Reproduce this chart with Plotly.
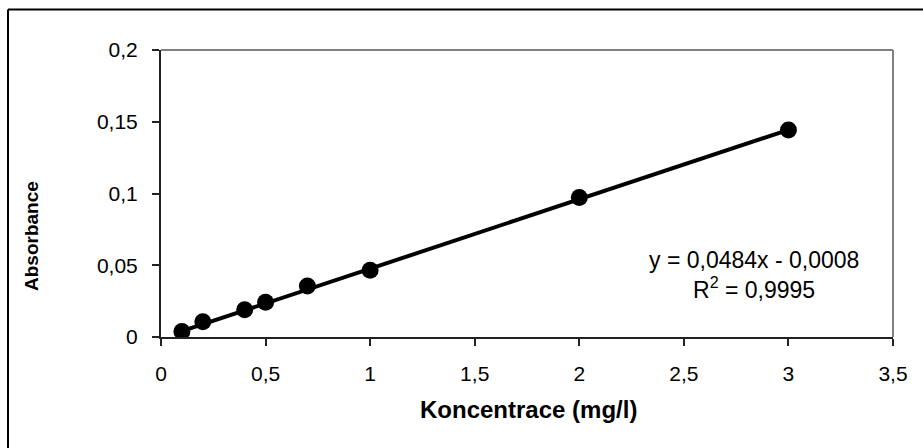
import plotly.graph_objects as go

# Data
concentration = [0.1, 0.2, 0.4, 0.5, 0.7, 1.0, 2.0, 3.0]
absorbance = [0.0039, 0.0107, 0.019, 0.0242, 0.0355, 0.0465, 0.0972, 0.1443]
slope = 0.0484
intercept = -0.0008
x_ticks = [0, 0.5, 1, 1.5, 2, 2.5, 3, 3.5]
x_tick_labels = ["0", "0,5", "1", "1,5", "2", "2,5", "3", "3,5"]
y_ticks = [0, 0.05, 0.1, 0.15, 0.2]
y_tick_labels = ["0", "0,05", "0,1", "0,15", "0,2"]
equation_text = "y = 0,0484x - 0,0008"
r2_text = "R<sup>2</sup> = 0,9995"
x_title = "Koncentrace (mg/l)"
y_title = "Absorbance"

FONT = "Liberation Sans, Arial, sans-serif"

trend_x = [min(concentration), max(concentration)]
trend_y = [slope * v + intercept for v in trend_x]

fig = go.Figure()
fig.add_trace(go.Scatter(x=trend_x, y=trend_y, mode="lines",
                         line=dict(color="black", width=4), hoverinfo="skip"))
fig.add_trace(go.Scatter(x=concentration, y=absorbance, mode="markers",
                         marker=dict(color="black", size=17, symbol="circle")))

W, H = 923, 448
L, R, T, B = 161, 30, 50, 111
pw = W - L - R
ph = H - T - B

def px(x):
    return (x - L) / pw

def py(y):
    return (H - B - y) / ph

TICKFONT = dict(size=21, family=FONT, color="black")

fig.update_layout(
    width=W, height=H,
    margin=dict(l=L, r=R, t=T, b=B),
    paper_bgcolor="white", plot_bgcolor="white",
    showlegend=False,
    separators=", ",
    font=dict(family=FONT, color="black", size=21),
    xaxis=dict(range=[0, 3.5], tickvals=x_ticks, ticktext=x_tick_labels,
               showgrid=False, zeroline=False, showline=True,
               linecolor="#222", linewidth=2, ticks="outside", ticklen=7,
               tickcolor="#222", tickwidth=1.5, ticklabelstandoff=10,
               tickfont=TICKFONT),
    yaxis=dict(range=[0, 0.2], tickvals=y_ticks, ticktext=y_tick_labels,
               showgrid=False, zeroline=False, showline=True,
               linecolor="#222", linewidth=2, ticks="outside", ticklen=7,
               tickcolor="#222", tickwidth=1.5, ticklabelstandoff=10,
               tickfont=TICKFONT),
)

# plot area border (top and right, gray)
fig.add_shape(type="line", xref="paper", yref="paper", x0=0, x1=1, y0=1, y1=1,
              line=dict(color="#808080", width=2))
fig.add_shape(type="line", xref="paper", yref="paper", x0=1, x1=1, y0=0, y1=1,
              line=dict(color="#808080", width=2))
# outer chart border (top and left visible)
fig.add_shape(type="line", xref="paper", yref="paper",
              x0=px(8), x1=px(W + 5), y0=py(9.5), y1=py(9.5),
              line=dict(color="black", width=2))
fig.add_shape(type="line", xref="paper", yref="paper",
              x0=px(8), x1=px(8), y0=py(9.5), y1=py(H + 5),
              line=dict(color="black", width=2))

def label(x, y, text, size, angle=0):
    fig.add_annotation(xref="paper", yref="paper", x=px(x), y=py(y),
                       xanchor="center", yanchor="middle",
                       text=text, showarrow=False, textangle=angle,
                       font=dict(size=size, family=FONT, color="black"))

label(754, 260, equation_text, 23)
label(754, 288, r2_text, 23)
label(528, 409, "<b>" + x_title + "</b>", 24)
label(31, 236, "<b>" + y_title + "</b>", 19, angle=-90)

fig.write_html("out.html")
